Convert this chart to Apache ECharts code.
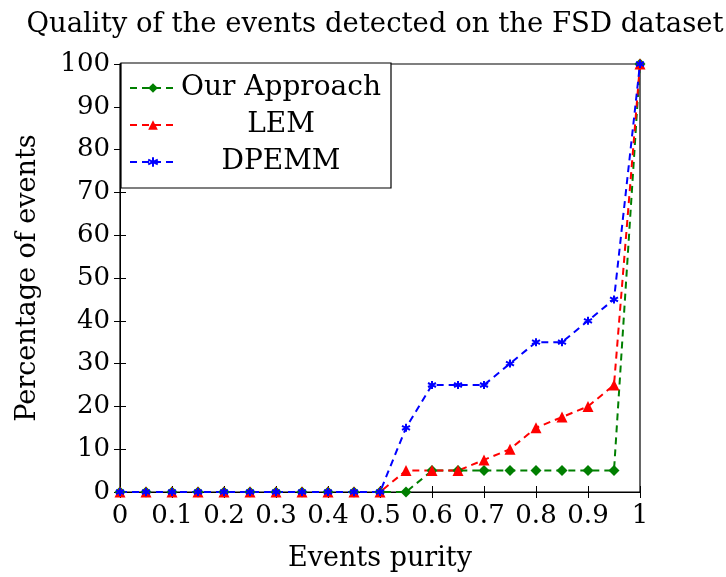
<!DOCTYPE html>
<html>
<head>
<meta charset="utf-8">
<script src="https://cdn.jsdelivr.net/npm/echarts@6/dist/echarts.min.js"></script>
<style>
  html, body { margin: 0; padding: 0; background: #fff; }
  #chart { width: 726px; height: 577px; }
</style>
</head>
<body>
<div id="chart"></div>
<script>
// purity values 0 .. 1 in steps of 0.05
const purity = [0, 0.05, 0.1, 0.15, 0.2, 0.25, 0.3, 0.35, 0.4, 0.45, 0.5,
  0.55, 0.6, 0.65, 0.7, 0.75, 0.8, 0.85, 0.9, 0.95, 1];
const ourApproach = [0, 0, 0, 0, 0, 0, 0, 0, 0, 0, 0,
  0, 5, 5, 5, 5, 5, 5, 5, 5, 100];
const lem = [0, 0, 0, 0, 0, 0, 0, 0, 0, 0, 0,
  5, 5, 5, 7.5, 10, 15, 17.5, 20, 25, 100];
const dpemm = [0, 0, 0, 0, 0, 0, 0, 0, 0, 0, 0,
  15, 25, 25, 25, 30, 35, 35, 40, 45, 100];

const font = 'DejaVu Serif';
const starPath = 'path://M0,-10L0,10M-9,-5L9,5M-9,5L9,-5';

function pairs(ys) {
  return purity.map((x, i) => [x, ys[i]]);
}

function mkSeries(name, data, color, symbol, size) {
  return {
    name: name,
    type: 'line',
    data: pairs(data),
    symbol: symbol,
    symbolSize: size,
    lineStyle: { color: color, width: 2, type: [7, 5] },
    itemStyle: { color: color, borderColor: color, borderWidth: symbol === starPath ? 2 : 0 },
    animation: false
  };
}

const chart = echarts.init(document.getElementById('chart'));
const tickStyle = { color: '#000', width: 1 };
chart.setOption({
  title: {
    text: 'Quality of the events detected on the FSD dataset',
    left: 370, textAlign: 'center', top: 6,
    textStyle: { fontFamily: font, fontWeight: 'normal', fontSize: 27.5, color: '#000' }
  },
  grid: { left: 120, right: 86, top: 64, bottom: 83, show: true, borderColor: '#000', borderWidth: 1.2 },
  legend: {
    left: 121, top: 63, orient: 'vertical',
    backgroundColor: '#fff', borderColor: '#000', borderWidth: 1.2,
    padding: [11, 10, 12, 8], itemGap: 9, itemWidth: 46, itemHeight: 12,
    formatter: '{c|{name}}',
    textStyle: {
      fontFamily: font, fontSize: 28, color: '#000',
      rich: { c: { fontFamily: font, fontSize: 28, color: '#000', width: 200, align: 'center', lineHeight: 32 } }
    },
    data: ['Our Approach', 'LEM', 'DPEMM']
  },
  xAxis: [{
    type: 'value', min: 0, max: 1, interval: 0.1,
    name: 'Events purity', nameLocation: 'middle', nameGap: 53,
    nameTextStyle: { fontFamily: font, fontSize: 27, color: '#000' },
    axisLine: { show: true, onZero: false, lineStyle: { color: '#000' } },
    axisTick: { inside: true, length: 6, lineStyle: tickStyle },
    axisLabel: { fontFamily: font, fontSize: 26, color: '#000', margin: 11,
      formatter: v => String(Math.round(v * 10) / 10) },
    splitLine: { show: false }
  }, {
    type: 'value', min: 0, max: 1, interval: 0.1, position: 'top',
    axisLine: { show: true, lineStyle: { color: '#000' } },
    axisTick: { inside: true, length: 6, lineStyle: tickStyle },
    axisLabel: { show: false }, splitLine: { show: false }
  }],
  yAxis: [{
    type: 'value', min: 0, max: 100, interval: 10,
    name: 'Percentage of events', nameLocation: 'middle', nameGap: 79,
    nameTextStyle: { fontFamily: font, fontSize: 27, color: '#000' },
    axisLine: { show: true, lineStyle: { color: '#000' } },
    axisTick: { inside: true, length: 6, lineStyle: tickStyle },
    axisLabel: { fontFamily: font, fontSize: 26, color: '#000', margin: 10 },
    splitLine: { show: false }
  }, {
    type: 'value', min: 0, max: 100, interval: 10, position: 'right',
    axisLine: { show: true, lineStyle: { color: '#000' } },
    axisTick: { inside: true, length: 6, lineStyle: tickStyle },
    axisLabel: { show: false }, splitLine: { show: false }
  }],
  series: [
    mkSeries('Our Approach', ourApproach, '#007f00', 'diamond', 11),
    mkSeries('LEM', lem, '#ff0000', 'triangle', 11),
    mkSeries('DPEMM', dpemm, '#0000ff', starPath, 8)
  ]
});
</script>
</body>
</html>
